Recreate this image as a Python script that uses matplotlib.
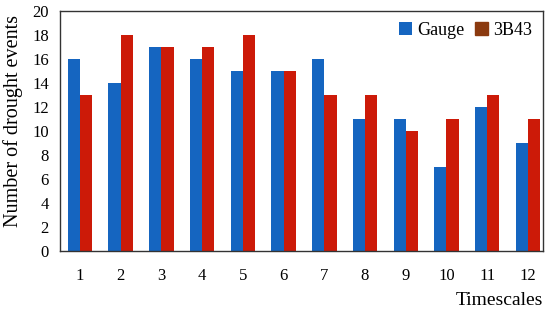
import matplotlib
matplotlib.use("Agg")
import matplotlib.pyplot as plt
import numpy as np

categories = [1, 2, 3, 4, 5, 6, 7, 8, 9, 10, 11, 12]
gauge = [16, 14, 17, 16, 15, 15, 16, 11, 11, 7, 12, 9]
b3b43 = [13, 18, 17, 17, 18, 15, 13, 13, 10, 11, 13, 11]
yticks = [0, 2, 4, 6, 8, 10, 12, 14, 16, 18, 20]

plt.rcParams['font.family'] = ['Liberation Serif', 'DejaVu Serif']

fig = plt.figure(figsize=(5.5, 3.13), dpi=100)
ax = fig.add_axes([60/550, 1-251/313, (543-60)/550, (251-11)/313])

x = np.array(categories)
w = 0.3
ax.bar(x - w/2, gauge, width=w, color='#1565c0', label='Gauge')
ax.bar(x + w/2, b3b43, width=w, color='#cc1a08', label='3B43')

ax.set_xlim(0.51, 12.37)
ax.set_ylim(0, 20)
ax.set_yticks(yticks)
ax.set_xticks(categories)
ax.tick_params(axis='both', length=0, labelsize=12)
ax.tick_params(axis='x', pad=12)
ax.tick_params(axis='y', pad=8)
ax.set_ylabel('Number of drought events', fontsize=14.5)
ax.yaxis.set_label_coords(-0.098, 0.54)
ax.yaxis.label.set_verticalalignment('center')
ax.set_xlabel('Timescales', fontsize=14)
ax.xaxis.set_label_coords(1.0, -0.205)
ax.xaxis.label.set_horizontalalignment('right')
ax.xaxis.label.set_verticalalignment('center')
for s in ax.spines.values():
    s.set_color('#333333')
    s.set_linewidth(1.0)

leg = ax.legend(loc='upper right', frameon=False, ncol=2, fontsize=13,
                handlelength=0.7, handleheight=0.7, handletextpad=0.3,
                columnspacing=0.6, borderaxespad=0.2)
leg.legend_handles[1].set_color('#8b3a0f')

fig.savefig('out.png', dpi=100)
